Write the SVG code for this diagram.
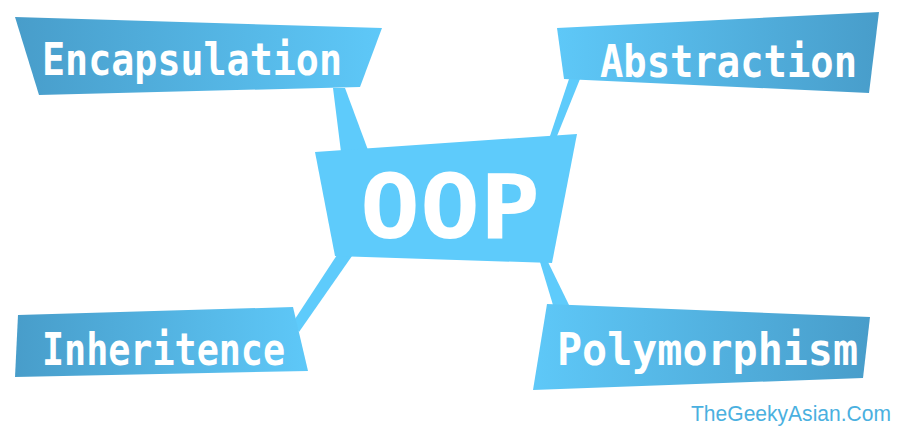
<svg xmlns="http://www.w3.org/2000/svg" width="900" height="431" viewBox="0 0 900 431">
<defs>
<linearGradient id="gL" x1="0" y1="0" x2="1" y2="0">
<stop offset="0" stop-color="#489dca"/><stop offset="1" stop-color="#5ec8f8"/>
</linearGradient>
<linearGradient id="gR" x1="0" y1="0" x2="1" y2="0">
<stop offset="0" stop-color="#5ec8f8"/><stop offset="1" stop-color="#489dca"/>
</linearGradient>
<style>
.lbl{font-family:"DejaVu Sans Mono","Liberation Mono",monospace;font-weight:bold;fill:#ffffff;}
.link{fill:#5ecbfb;}
</style>
</defs>
<rect width="900" height="431" fill="#ffffff"/>
<g id="connectors">
<polygon class="link" points="333,88 345,88 368,150 341,152"/>
<polygon class="link" points="569,79 580,79 557,136 550,136"/>
<polygon class="link" points="337,255 352,256 299,332 293,322"/>
<polygon class="link" points="540,262 548,262 569,305 553,305"/>
</g>
<g id="encapsulation">
<polygon points="15,17 382,28 360,87 39,95" fill="url(#gL)"/>
<text class="lbl" x="42" y="75" font-size="45" textLength="300" lengthAdjust="spacingAndGlyphs">Encapsulation</text>
</g>
<g id="abstraction">
<polygon points="557,28 879,12 869,93 564,79" fill="url(#gR)"/>
<text class="lbl" x="600" y="77" font-size="45" textLength="257" lengthAdjust="spacingAndGlyphs">Abstraction</text>
</g>
<g id="oop">
<polygon points="315,152 577,134 552,263 335,256" fill="#5ecbfb"/>
<text class="lbl" x="360" y="238" font-size="89" textLength="180" lengthAdjust="spacingAndGlyphs">OOP</text>
</g>
<g id="inheritence">
<polygon points="18,315 293,307 308,371 15,377" fill="url(#gL)"/>
<text class="lbl" x="42" y="365" font-size="45" textLength="243" lengthAdjust="spacingAndGlyphs">Inheritence</text>
</g>
<g id="polymorphism">
<polygon points="547,304 870,317 863,378 533,390" fill="url(#gR)"/>
<text class="lbl" x="557" y="365" font-size="45" textLength="301" lengthAdjust="spacingAndGlyphs">Polymorphism</text>
</g>
<text x="691" y="421" font-family="Liberation Sans, Arial, sans-serif" font-size="22" fill="#4ab0e0" textLength="200" lengthAdjust="spacingAndGlyphs">TheGeekyAsian.Com</text>
</svg>
